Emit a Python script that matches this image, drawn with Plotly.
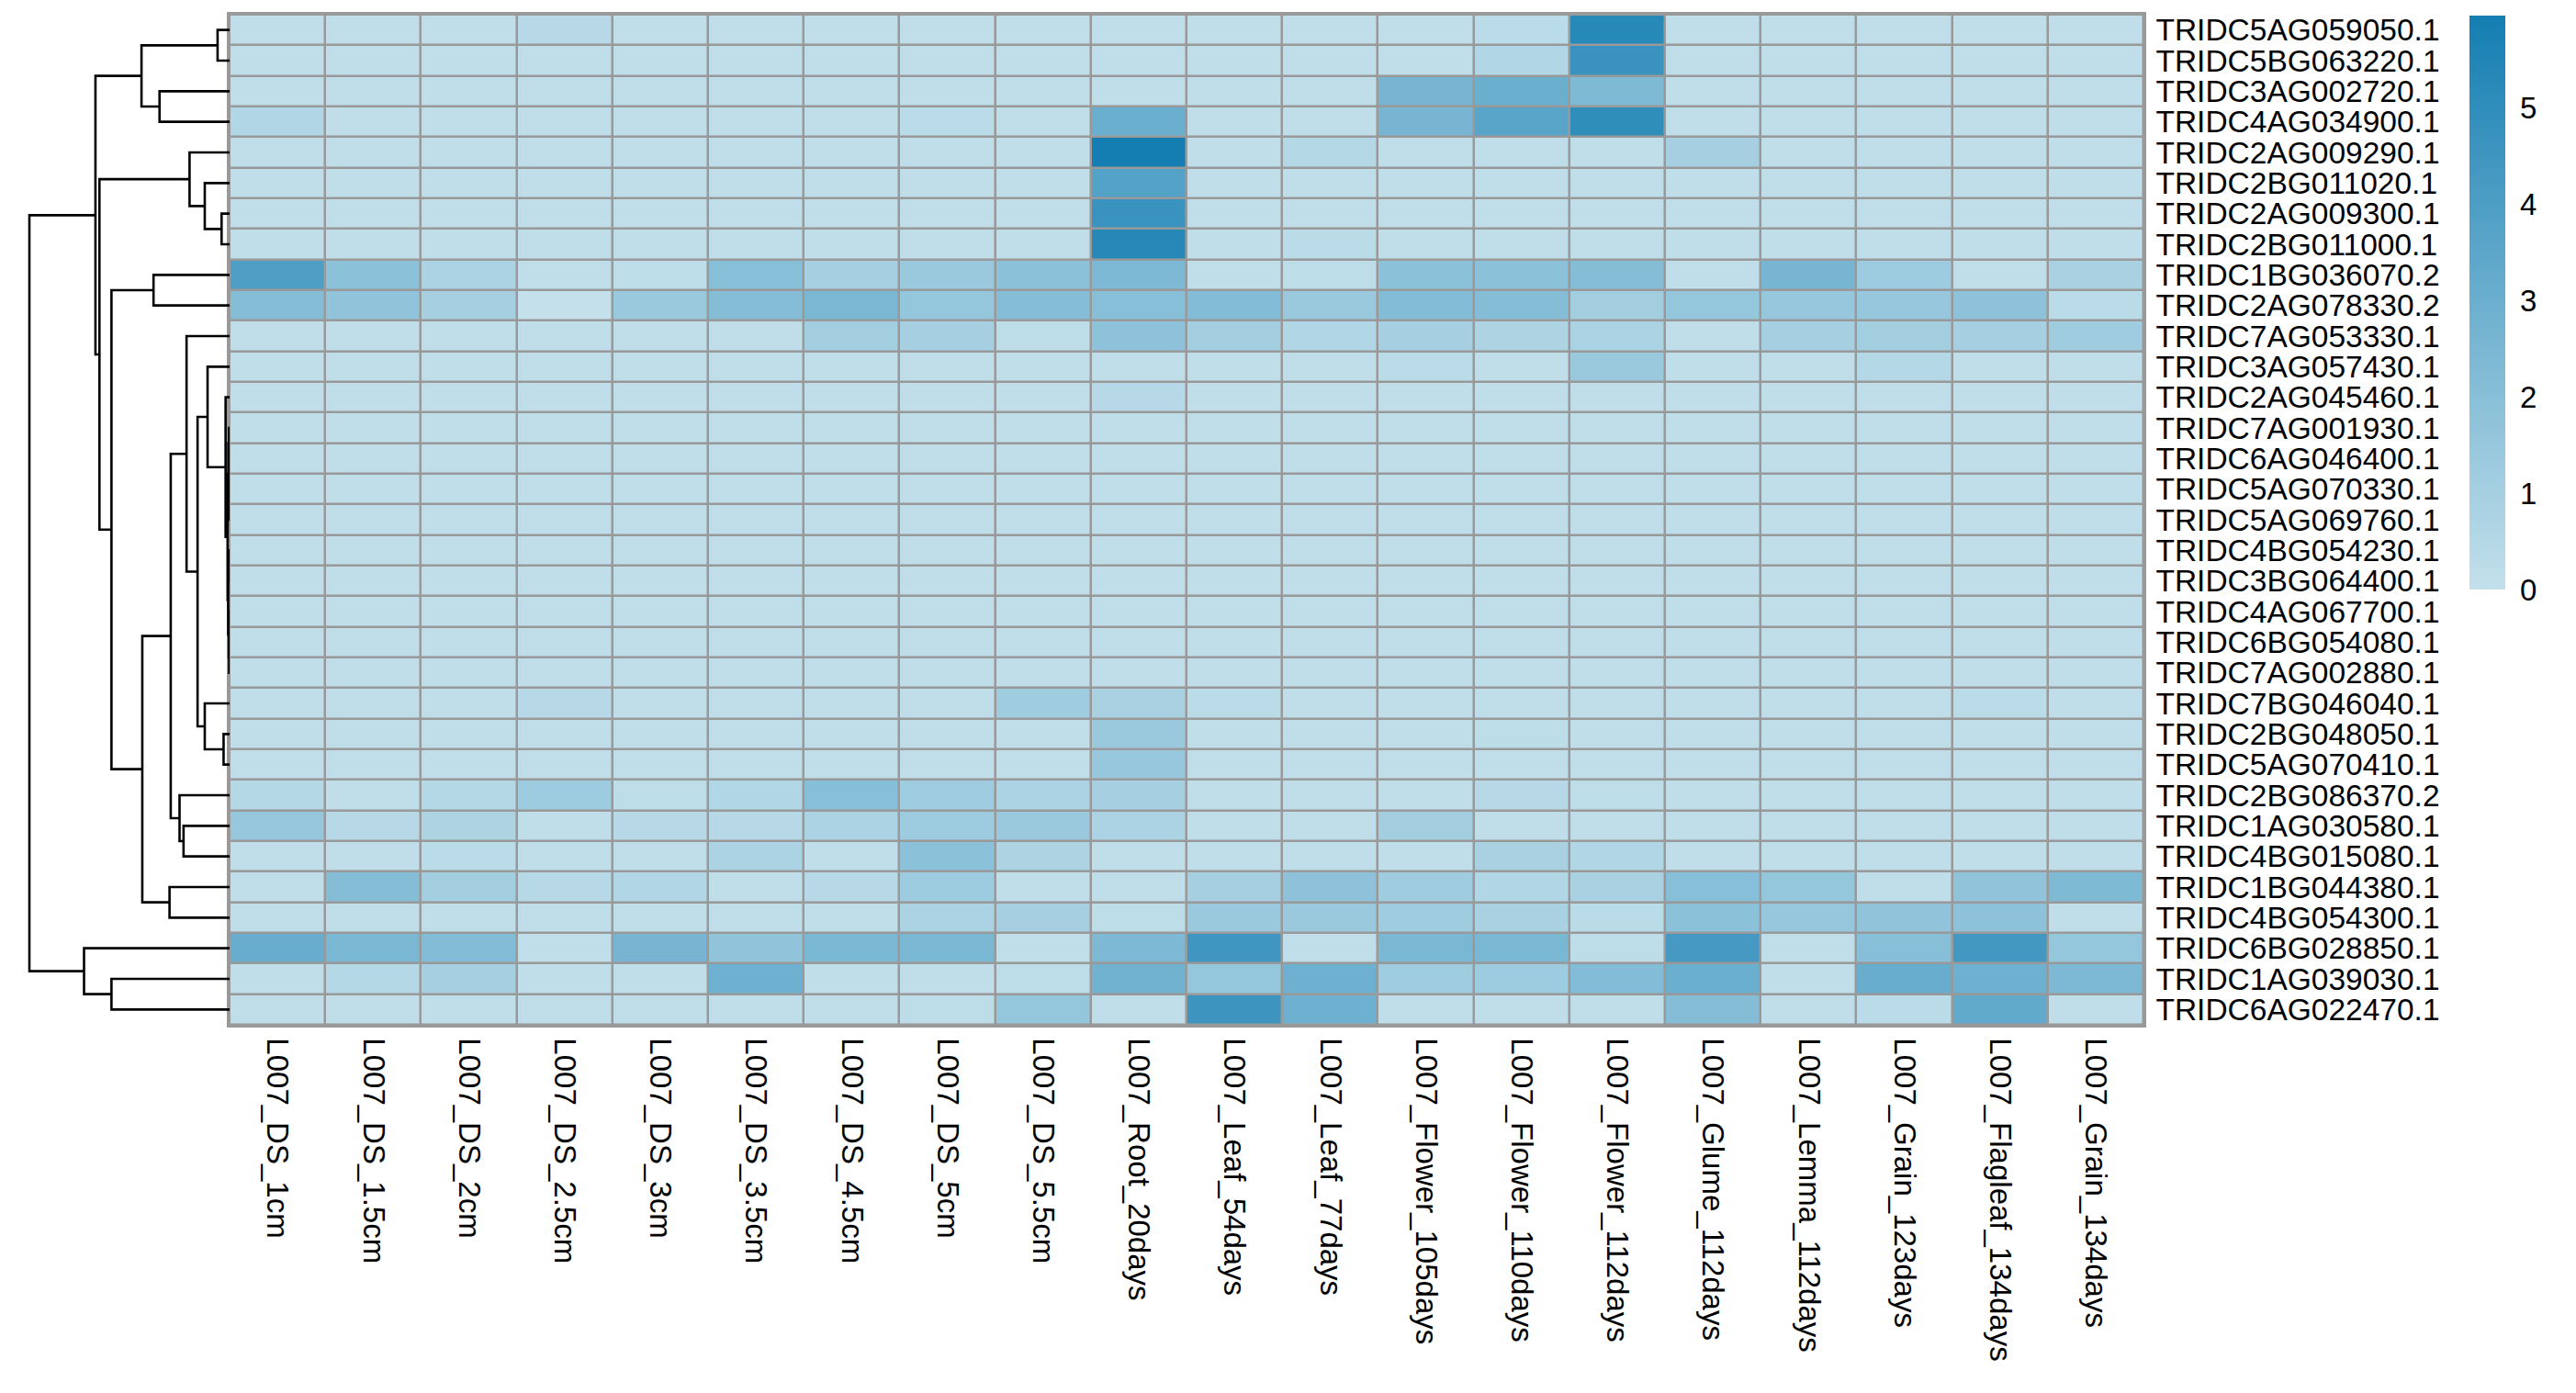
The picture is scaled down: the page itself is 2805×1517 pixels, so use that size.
import plotly.graph_objects as go

genes = ["TRIDC5AG059050.1", "TRIDC5BG063220.1", "TRIDC3AG002720.1", "TRIDC4AG034900.1",
         "TRIDC2AG009290.1", "TRIDC2BG011020.1", "TRIDC2AG009300.1", "TRIDC2BG011000.1",
         "TRIDC1BG036070.2", "TRIDC2AG078330.2", "TRIDC7AG053330.1", "TRIDC3AG057430.1",
         "TRIDC2AG045460.1", "TRIDC7AG001930.1", "TRIDC6AG046400.1", "TRIDC5AG070330.1",
         "TRIDC5AG069760.1", "TRIDC4BG054230.1", "TRIDC3BG064400.1", "TRIDC4AG067700.1",
         "TRIDC6BG054080.1", "TRIDC7AG002880.1", "TRIDC7BG046040.1", "TRIDC2BG048050.1",
         "TRIDC5AG070410.1", "TRIDC2BG086370.2", "TRIDC1AG030580.1", "TRIDC4BG015080.1",
         "TRIDC1BG044380.1", "TRIDC4BG054300.1", "TRIDC6BG028850.1", "TRIDC1AG039030.1",
         "TRIDC6AG022470.1"]

samples = ["L007_DS_1cm", "L007_DS_1.5cm", "L007_DS_2cm", "L007_DS_2.5cm", "L007_DS_3cm",
           "L007_DS_3.5cm", "L007_DS_4.5cm", "L007_DS_5cm", "L007_DS_5.5cm", "L007_Root_20days",
           "L007_Leaf_54days", "L007_Leaf_77days", "L007_Flower_105days", "L007_Flower_110days",
           "L007_Flower_112days", "L007_Glume_112days", "L007_Lemma_112days", "L007_Grain_123days",
           "L007_Flagleaf_134days", "L007_Grain_134days"]

b = 0.1
expr = [
    [b, b, b, 0.4, b, b, b, b, b, b, b, b, b, 0.3, 5.3, b, b, b, b, b],
    [b, b, b, b, b, b, b, b, b, b, b, b, b, 0.6, 4.7, b, b, b, b, b],
    [b, b, b, b, b, b, b, b, b, b, b, b, 2.6, 3.0, 2.3, b, b, b, b, b],
    [0.6, b, b, b, b, b, b, 0.3, b, 3.0, b, b, 2.6, 3.6, 5.0, b, b, b, b, b],
    [b, b, b, b, b, b, b, b, b, 5.96, b, 0.5, b, b, b, 1.0, b, b, b, b],
    [b, b, b, b, b, b, b, b, b, 3.8, b, b, b, b, b, b, b, b, b, b],
    [b, b, b, b, b, b, b, b, b, 4.7, b, b, b, b, b, b, b, b, b, b],
    [b, b, b, b, b, b, b, b, b, 5.3, b, 0.3, b, b, b, b, b, b, b, b],
    [4.0, 1.9, 0.8, 0.15, 0.2, 2.0, 1.0, 1.4, 1.9, 2.4, 0.1, 0.2, 1.9, 1.9, 2.1, 0.1, 2.6, 1.3, 0.1, 0.9],
    [2.1, 1.7, 1.0, 0.0, 1.4, 2.1, 2.5, 1.6, 2.1, 2.0, 2.2, 1.4, 2.2, 2.1, 1.1, 1.6, 1.5, 1.5, 1.8, 0.3],
    [b, b, b, b, b, b, 1.1, 1.0, 0.2, 1.8, 1.1, 0.6, 1.0, 0.7, 0.8, b, 1.0, 1.1, 1.0, 1.2],
    [b, b, b, b, b, b, b, b, b, b, b, b, 0.3, b, 1.4, b, b, 0.5, b, b],
    [b, b, b, b, b, b, b, b, b, 0.4, b, b, b, b, b, b, b, b, b, b],
    [b] * 20,
    [b] * 20,
    [b] * 20,
    [b] * 20,
    [b] * 20,
    [b] * 20,
    [b] * 20,
    [b] * 20,
    [b] * 20,
    [b, b, b, 0.4, b, b, b, b, 1.2, 0.9, 0.3, 0.15, b, b, b, b, b, b, 0.3, b],
    [b, b, b, b, b, b, b, b, b, 1.4, b, b, b, 0.2, b, b, b, b, b, 0.15],
    [b, b, b, b, b, b, b, b, b, 1.5, b, b, b, b, b, b, b, b, b, b],
    [0.5, b, 0.5, 1.3, 0.2, 0.6, 2.0, 1.2, 0.8, 1.0, b, b, b, 0.4, 0.2, b, b, b, b, b],
    [1.5, 0.4, 0.7, b, 0.4, 0.4, 0.8, 1.3, 1.4, 0.8, b, b, 1.1, b, b, b, b, b, b, b],
    [b, 0.15, 0.3, b, b, 0.8, b, 1.9, 0.7, b, b, b, b, 0.9, 0.6, b, b, b, b, b],
    [b, 2.1, 1.1, 0.4, 0.6, b, 0.4, 1.3, b, b, 1.0, 1.8, 1.2, 0.6, 0.9, 2.0, 1.6, b, 1.7, 2.3],
    [b, b, b, b, b, b, 0.15, 0.8, 1.0, 0.2, 1.4, 1.4, 1.2, 0.9, 0.3, 1.9, 1.5, 1.7, 1.8, b],
    [3.1, 2.5, 2.2, b, 2.6, 1.7, 2.5, 2.5, b, 2.4, 4.5, b, 2.5, 2.5, 0.2, 4.3, b, 2.0, 4.4, 1.6],
    [b, 0.5, 1.0, b, 0.15, 2.9, b, 0.15, 0.2, 2.8, 1.6, 2.9, 1.2, 1.3, 2.2, 3.0, b, 3.1, 2.9, 2.4],
    [b, b, b, b, b, b, b, 0.2, 1.6, b, 4.6, 2.9, b, b, b, 2.1, b, 0.3, 3.3, b],
]

# Row dendrogram: (child_a, child_b, height); ints = leaf row index, "mK" = K-th merge
merges = [
    (0, 1, 0.6),            # m0
    (2, 3, 3.5),            # m1
    ("m0", "m1", 4.4),      # m2
    (6, 7, 0.4),            # m3
    (5, "m3", 1.24),        # m4
    (4, "m4", 2.0),         # m5
    (8, 9, 3.8),            # m6
    (23, 24, 0.3),          # m7
    (22, "m7", 1.24),       # m8
    (13, 14, 0.03),         # m9
    (15, 16, 0.04),         # m10
    ("m9", "m10", 0.06),    # m11
    (17, 18, 0.03),         # m12
    (20, 21, 0.02),         # m13
    (19, "m13", 0.04),      # m14
    ("m12", "m14", 0.07),   # m15
    ("m11", "m15", 0.1),    # m16
    (12, "m16", 0.2),       # m17
    (11, "m17", 1.1),       # m18
    ("m18", "m8", 1.6),     # m19
    (10, "m19", 2.15),      # m20
    (26, 27, 2.3),          # m21
    (25, "m21", 2.5),       # m22
    ("m20", "m22", 2.94),   # m23
    (28, 29, 3.0),          # m24
    ("m23", "m24", 4.36),   # m25
    ("m6", "m25", 5.9),     # m26
    ("m5", "m26", 6.5),     # m27
    ("m2", "m27", 6.7),     # m28
    (31, 32, 5.9),          # m29
    (30, "m29", 7.27),      # m30
    ("m28", "m30", 10.0),   # m31 root
]

W, H = 2805, 1517
hm_x0, hm_x1 = 250, 2334
hm_y0, hm_y1 = 16, 1116
font_family = "Liberation Sans, Arial, sans-serif"
border = "#999999"

# dendrogram segments
pos = {}
def node(c):
    if isinstance(c, int):
        return (0.0, float(c))
    return pos[c]

dx, dy = [], []
for i, (a, c, h) in enumerate(merges):
    ha, ya = node(a)
    hc, yc = node(c)
    dx += [ha, h, h, hc, None]
    dy += [ya, ya, yc, yc, None]
    pos["m%d" % i] = (h, (ya + yc) / 2)

root_h = merges[-1][2]
dend_range = [root_h * hm_x0 / (hm_x0 - 32), 0]

flat = [v for r in expr for v in r]
zmin, zmax = min(flat), max(flat)

fig = go.Figure()
fig.add_trace(go.Heatmap(
    z=expr, x=list(range(len(samples))), y=list(range(len(genes))),
    zmin=zmin, zmax=zmax,
    colorscale=[[0, "rgb(195,224,235)"], [1, "rgb(20,126,178)"]],
    xgap=2.5, ygap=2.5,
    colorbar=dict(
        thickness=39, thicknessmode="pixels",
        len=625 / H, lenmode="fraction",
        x=2689 / W, xanchor="left", xpad=0,
        y=1 - 17 / H, yanchor="top", ypad=0,
        outlinewidth=0,
        tickvals=[0, 1, 2, 3, 4, 5],
        ticks="outside", ticklen=10, tickcolor="rgba(0,0,0,0)",
        tickfont=dict(size=33, color="black", family=font_family),
    ),
    hoverinfo="skip",
))
fig.add_trace(go.Scatter(
    x=dx, y=dy, mode="lines", xaxis="x2", yaxis="y2",
    line=dict(color="black", width=2.6), hoverinfo="skip", showlegend=False,
))

# grey backdrop behind the heatmap cells (forms the cell borders)
fig.add_shape(type="rect", xref="x domain", yref="y domain", x0=0, x1=1, y0=0, y1=1,
              fillcolor=border, line=dict(width=0), layer="below")

fig.update_layout(
    width=W, height=H,
    margin=dict(l=0, r=0, t=0, b=0),
    paper_bgcolor="white",
    plot_bgcolor="white",
    font=dict(family=font_family, color="black", size=33),
    xaxis=dict(
        domain=[hm_x0 / W, hm_x1 / W], range=[-0.5, len(samples) - 0.5],
        tickvals=list(range(len(samples))), ticktext=samples, tickangle=90,
        tickfont=dict(size=33), ticks="", showgrid=False, zeroline=False,
        showline=True, mirror=True, linecolor=border, linewidth=2.5,
        ticklabelstandoff=5, automargin=False,
    ),
    yaxis=dict(
        domain=[1 - hm_y1 / H, 1 - hm_y0 / H], range=[len(genes) - 0.5, -0.5],
        side="right", tickvals=list(range(len(genes))), ticktext=genes,
        tickfont=dict(size=33.5), ticks="", showgrid=False, zeroline=False,
        showline=True, mirror=True, linecolor=border, linewidth=2.5,
        ticklabelstandoff=4, automargin=False,
    ),
    xaxis2=dict(domain=[0, hm_x0 / W], range=dend_range, visible=False,
                showgrid=False, zeroline=False),
    yaxis2=dict(domain=[1 - hm_y1 / H, 1 - hm_y0 / H], range=[len(genes) - 0.5, -0.5],
                anchor="x2", visible=False, showgrid=False, zeroline=False),
    showlegend=False,
)

fig.write_html("out.html", config={"displayModeBar": False},
               post_script="document.body.style.margin='0';document.body.style.overflow='hidden';")
